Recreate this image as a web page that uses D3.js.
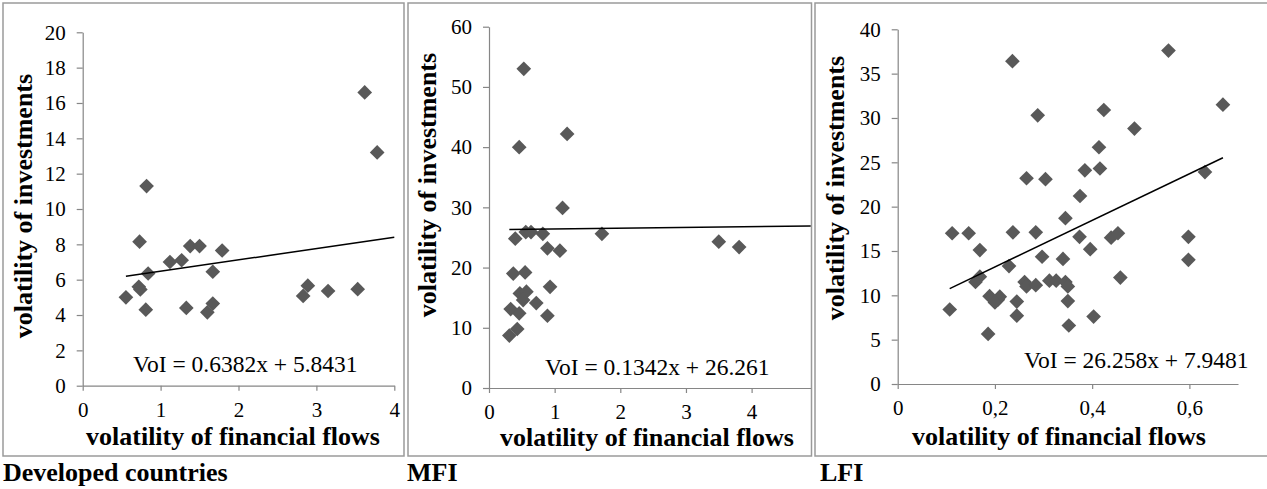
<!DOCTYPE html>
<html>
<head>
<meta charset="utf-8">
<script src="https://cdn.jsdelivr.net/npm/d3@7"></script>
<style>
  html, body { margin: 0; padding: 0; background: #fff; }
  svg { display: block; }
  svg text { font-family: "Liberation Serif", "Times New Roman", Times, Tinos, "Nimbus Roman", "DejaVu Serif", serif; }
</style>
</head>
<body>
<svg id="chart" width="1267" height="489"></svg>
<script>
// Developed countries
const devX = [3.62, 3.78, 0.82, 0.73, 1.38, 1.50, 1.79, 1.12, 1.27, 1.67, 0.84, 0.555, 0.72, 0.74, 0.81, 1.33, 1.60, 1.67, 2.83, 2.89, 3.15, 3.53];
const devY = [16.6, 13.2, 11.3, 8.15, 7.9, 7.9, 7.65, 7.0, 7.1, 6.45, 6.35, 5.0, 5.6, 5.45, 4.3, 4.4, 4.15, 4.65, 5.08, 5.66, 5.36, 5.46];

// MFI
const mfiX = [0.53, 0.46, 1.19, 1.12, 0.40, 0.56, 0.64, 0.82, 1.72, 0.89, 1.08, 3.50, 3.81, 0.37, 0.55, 0.93, 0.47, 0.57, 0.52, 0.72, 0.33, 0.46, 0.89, 0.43, 0.31];
const mfiY = [53.0, 40.0, 42.2, 29.9, 24.8, 25.9, 25.9, 25.6, 25.6, 23.2, 22.8, 24.3, 23.4, 19.0, 19.2, 16.8, 15.7, 16.0, 14.6, 14.1, 13.1, 12.4, 12.0, 9.8, 8.7];

// LFI
const lfiX = [0.557, 0.236, 0.669, 0.288, 0.424, 0.487, 0.414, 0.385, 0.416, 0.632, 0.265, 0.304, 0.375, 0.345, 0.112, 0.146, 0.237, 0.284, 0.374, 0.439, 0.453, 0.598, 0.396, 0.169,
              0.598, 0.297, 0.340, 0.229, 0.458, 0.169, 0.160, 0.261, 0.265, 0.284, 0.312, 0.326, 0.345, 0.350, 0.350, 0.352, 0.403, 0.245, 0.245, 0.189, 0.206, 0.210, 0.200, 0.186, 0.107];
const lfiY = [37.6, 36.4, 31.5, 30.3, 30.9, 28.8, 26.7, 24.1, 24.3, 23.9, 23.2, 23.1, 21.2, 18.7, 17.0, 17.0, 17.1, 17.1, 16.6, 16.5, 17.0, 16.6, 15.2, 15.1,
              14.0, 14.35, 14.1, 13.3, 12.0, 12.1, 11.5, 11.5, 11.0, 11.15, 11.65, 11.65, 11.5, 11.0, 9.35, 6.6, 7.6, 9.3, 7.7, 9.9, 9.5, 9.85, 9.2, 5.65, 8.4];

// Axis ranges and ticks
const xMax = [4, 4.9, 0.7];
const yMax = [20, 60, 40];
const xTicks = [[0, 1, 2, 3, 4], [0, 1, 2, 3, 4], [0, 0.2, 0.4, 0.6]];
const yTicks = [d3.range(0, 21, 2), d3.range(0, 61, 10), d3.range(0, 41, 5)];

// Linear trend lines: VoI = slope * x + intercept, drawn up to trendEnd
const slopes = [0.6382, 0.1342, 26.258];
const intercepts = [5.8431, 26.261, 7.9481];
const trendEnd = [4, 4.9, 0.669];
const equations = ["VoI = 0.6382x + 5.8431", "VoI = 0.1342x + 26.261", "VoI = 26.258x + 7.9481"];

const groupNames = ["Developed countries", "MFI", "LFI"];
const xTitle = "volatility of financial flows";
const yTitle = "volatility of investments";

const xs = [devX, mfiX, lfiX];
const ys = [devY, mfiY, lfiY];

// Layout of each panel (pixel geometry)
const layout = [
  { frame: [3, 3, 401, 453],     plot: [82.7, 394.3, 32.3, 385.7], yTitle: [32, 206],  xTitle: [233, 445],  eq: [133, 372],  label: [3, 481] },
  { frame: [408, 3, 403.5, 453], plot: [489, 810.7, 26.7, 388],    yTitle: [436, 185], xTitle: [647, 446],  eq: [545, 375],  label: [407, 481] },
  { frame: [815, 3, 470, 453],   plot: [897.7, 1238, 29.3, 384],   yTitle: [844, 188], xTitle: [1059, 445], eq: [1024, 368], label: [820, 481] }
];

const svg = d3.select("#chart");
const axisColor = "#868686";

const commaFmt = d => String(d).replace(".", ",");

layout.forEach((L, i) => {
  // panel frame
  svg.append("rect")
    .attr("x", L.frame[0]).attr("y", L.frame[1])
    .attr("width", L.frame[2]).attr("height", L.frame[3])
    .attr("fill", "none").attr("stroke", "#9a9a9a").attr("stroke-width", 1.5);

  const x = d3.scaleLinear().domain([0, xMax[i]]).range([L.plot[0], L.plot[1]]);
  const y = d3.scaleLinear().domain([0, yMax[i]]).range([L.plot[3], L.plot[2]]);

  const g = svg.append("g");

  // y axis
  const yAxis = g.append("g")
    .attr("transform", `translate(${L.plot[0]},0)`)
    .call(d3.axisLeft(y).tickValues(yTicks[i]).tickSize(6).tickSizeOuter(0).tickPadding(11).tickFormat(d3.format("d")));

  // x axis
  const xAxis = g.append("g")
    .attr("transform", `translate(0,${L.plot[3]})`)
    .call(d3.axisBottom(x).tickValues(xTicks[i]).tickSize(5).tickSizeOuter(0).tickPadding(11)
      .tickFormat(i === 2 ? commaFmt : d3.format("d")));

  [yAxis, xAxis].forEach(a => {
    a.attr("font-family", null).attr("font-size", null);
    a.select(".domain").attr("stroke", axisColor).attr("stroke-width", 1.2);
    a.selectAll(".tick line").attr("stroke", axisColor).attr("stroke-width", 1.2);
    a.selectAll(".tick text").attr("fill", "#000").style("font-size", "21px");
  });

  // data points (diamonds)
  const pts = xs[i].map((v, k) => [v, ys[i][k]]);
  g.append("g").selectAll("path")
    .data(pts)
    .join("path")
    .attr("d", d3.symbol(d3.symbolSquare, 108))
    .attr("transform", d => `translate(${x(d[0])},${y(d[1])}) rotate(45)`)
    .attr("fill", "#595959");

  // linear trend line
  const x0 = d3.min(xs[i]);
  const line = d3.line().x(d => x(d)).y(d => y(slopes[i] * d + intercepts[i]));
  g.append("path")
    .attr("d", line([x0, trendEnd[i]]))
    .attr("fill", "none").attr("stroke", "#000").attr("stroke-width", 1.5);

  // equation label
  g.append("text")
    .attr("x", L.eq[0]).attr("y", L.eq[1])
    .style("font-size", "23.5px")
    .text(equations[i]);

  // axis titles
  g.append("text")
    .attr("transform", `translate(${L.yTitle[0]},${L.yTitle[1]}) rotate(-90)`)
    .attr("text-anchor", "middle")
    .style("font-size", "26px").style("font-weight", "bold")
    .text(yTitle);

  g.append("text")
    .attr("x", L.xTitle[0]).attr("y", L.xTitle[1])
    .attr("text-anchor", "middle")
    .style("font-size", "26px").style("font-weight", "bold")
    .text(xTitle);

  // group label under the panel
  svg.append("text")
    .attr("x", L.label[0]).attr("y", L.label[1])
    .style("font-size", "26px").style("font-weight", "bold")
    .text(groupNames[i]);
});
</script>
</body>
</html>
